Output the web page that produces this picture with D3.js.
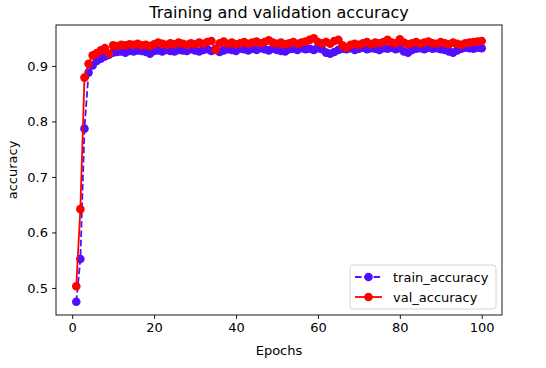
<!DOCTYPE html>
<html>
<head>
<meta charset="utf-8">
<script src="https://cdn.jsdelivr.net/npm/d3@7"></script>
<style>
  body { margin: 0; background: #fff; }
  text { font-family: "DejaVu Sans", sans-serif; }
</style>
</head>
<body>
<svg id="chart" width="546" height="368"></svg>
<script>
// accuracy per epoch
var trainAcc = [0.475, 0.552, 0.787, 0.888, 0.901, 0.909, 0.913, 0.917, 0.920, 0.924,
    0.925, 0.926, 0.924, 0.927, 0.926, 0.928, 0.927, 0.925, 0.922, 0.927,
    0.928, 0.926, 0.929, 0.927, 0.926, 0.929, 0.928, 0.927, 0.930, 0.928,
    0.926, 0.929, 0.930, 0.927, 0.931, 0.925, 0.928, 0.930, 0.929, 0.927,
    0.931, 0.930, 0.928, 0.931, 0.929, 0.932, 0.930, 0.928, 0.931, 0.929,
    0.927, 0.926, 0.930, 0.931, 0.929, 0.932, 0.930, 0.931, 0.929, 0.932,
    0.930, 0.924, 0.922, 0.925, 0.929, 0.931, 0.930, 0.932, 0.929, 0.931,
    0.933, 0.930, 0.932, 0.931, 0.929, 0.932, 0.931, 0.933, 0.930, 0.932,
    0.926, 0.924, 0.929, 0.931, 0.932, 0.930, 0.933, 0.931, 0.932, 0.930,
    0.929, 0.926, 0.924, 0.928, 0.931, 0.933, 0.932, 0.931, 0.933, 0.932];
var valAcc = [0.503, 0.642, 0.879, 0.904, 0.919, 0.923, 0.928, 0.932, 0.922, 0.937,
    0.936, 0.938, 0.937, 0.939, 0.938, 0.940, 0.937, 0.938, 0.936, 0.939,
    0.942, 0.940, 0.938, 0.941, 0.939, 0.942, 0.940, 0.938, 0.941, 0.939,
    0.942, 0.940, 0.943, 0.945, 0.929, 0.941, 0.944, 0.940, 0.942, 0.939,
    0.941, 0.943, 0.940, 0.942, 0.944, 0.941, 0.943, 0.946, 0.942, 0.940,
    0.942, 0.939, 0.941, 0.943, 0.940, 0.942, 0.944, 0.947, 0.950, 0.943,
    0.941, 0.943, 0.940, 0.945, 0.947, 0.937, 0.933, 0.938, 0.940, 0.938,
    0.941, 0.943, 0.939, 0.942, 0.941, 0.943, 0.947, 0.942, 0.941, 0.948,
    0.942, 0.939, 0.941, 0.943, 0.940, 0.942, 0.944, 0.941, 0.940, 0.943,
    0.941, 0.939, 0.942, 0.940, 0.938, 0.941, 0.942, 0.943, 0.944, 0.945];
var epochs = d3.range(1, trainAcc.length + 1);
var xTicks = [0, 20, 40, 60, 80, 100];
var yTicks = [0.5, 0.6, 0.7, 0.8, 0.9];

var svg = d3.select("#chart"),
    margin = {top: 25, right: 44, bottom: 53, left: 56},
    width = 546 - margin.left - margin.right,
    height = 368 - margin.top - margin.bottom;

var blue = "#5010ff", red = "#ff0000";

// matplotlib style 5% padding
var xPad = (epochs[epochs.length - 1] - epochs[0]) * 0.05;
var allY = trainAcc.concat(valAcc);
var yMin = d3.min(allY), yMax = d3.max(allY), yPad = (yMax - yMin) * 0.05;

var xScale = d3.scaleLinear().domain([epochs[0] - xPad, epochs[epochs.length - 1] + xPad]).range([0, width]);
var yScale = d3.scaleLinear().domain([yMin - yPad, yMax + yPad]).range([height, 0]);

var g = svg.append("g").attr("transform", "translate(" + margin.left + "," + margin.top + ")");

var xAxis = g.append("g")
    .attr("transform", "translate(0," + height + ")")
    .call(d3.axisBottom(xScale).tickValues(xTicks).tickSize(4).tickPadding(4).tickFormat(d3.format("d")));
var yAxis = g.append("g")
    .call(d3.axisLeft(yScale).tickValues(yTicks).tickSize(4).tickPadding(4).tickFormat(d3.format(".1f")));
[xAxis, yAxis].forEach(function(a) {
    a.select(".domain").remove();
    a.selectAll("line").attr("stroke", "#000").attr("stroke-width", 0.9);
    a.selectAll("text").style("font-size", "13px").attr("fill", "#000");
});

var line = d3.line().x((d, i) => xScale(epochs[i])).y(d => yScale(d));

var series = [
    {name: "train_accuracy", values: trainAcc, color: blue, dash: "6.5,2.8"},
    {name: "val_accuracy", values: valAcc, color: red, dash: null}
];

series.forEach(function(s) {
    var sg = g.append("g");
    sg.append("path")
        .datum(s.values)
        .attr("fill", "none")
        .attr("stroke", s.color)
        .attr("stroke-width", 1.8)
        .attr("stroke-dasharray", s.dash)
        .attr("d", line);
    sg.selectAll("circle")
        .data(s.values)
        .enter().append("circle")
        .attr("cx", (d, i) => xScale(epochs[i]))
        .attr("cy", d => yScale(d))
        .attr("r", 4.3)
        .attr("fill", s.color);
});

// frame
g.append("rect")
    .attr("width", width).attr("height", height)
    .attr("fill", "none").attr("stroke", "#000").attr("stroke-width", 0.9);

// legend
var lg = g.append("g").attr("transform", "translate(" + (width - 152) + "," + (height - 50) + ")");
lg.append("rect")
    .attr("width", 146).attr("height", 44).attr("rx", 3)
    .attr("fill", "#fff").attr("fill-opacity", 0.8)
    .attr("stroke", "#d0d0d0").attr("stroke-width", 0.9);
series.forEach(function(s, i) {
    var yy = 12 + i * 20;
    lg.append("line")
        .attr("x1", 5).attr("x2", 32).attr("y1", yy).attr("y2", yy)
        .attr("stroke", s.color).attr("stroke-width", 1.8)
        .attr("stroke-dasharray", s.dash);
    lg.append("circle").attr("cx", 18.5).attr("cy", yy).attr("r", 4.3).attr("fill", s.color);
    lg.append("text")
        .attr("x", 43).attr("y", yy).attr("dy", "0.35em")
        .style("font-size", "13px")
        .text(s.name);
});

// titles
svg.append("text")
    .attr("x", margin.left + width / 2).attr("y", 18)
    .attr("text-anchor", "middle")
    .style("font-size", "16px")
    .text("Training and validation accuracy");
svg.append("text")
    .attr("x", margin.left + width / 2).attr("y", 355)
    .attr("text-anchor", "middle")
    .style("font-size", "13px")
    .text("Epochs");
svg.append("text")
    .attr("transform", "translate(17," + (margin.top + height / 2) + ") rotate(-90)")
    .attr("text-anchor", "middle")
    .style("font-size", "13px")
    .text("accuracy");
</script>
</body>
</html>
